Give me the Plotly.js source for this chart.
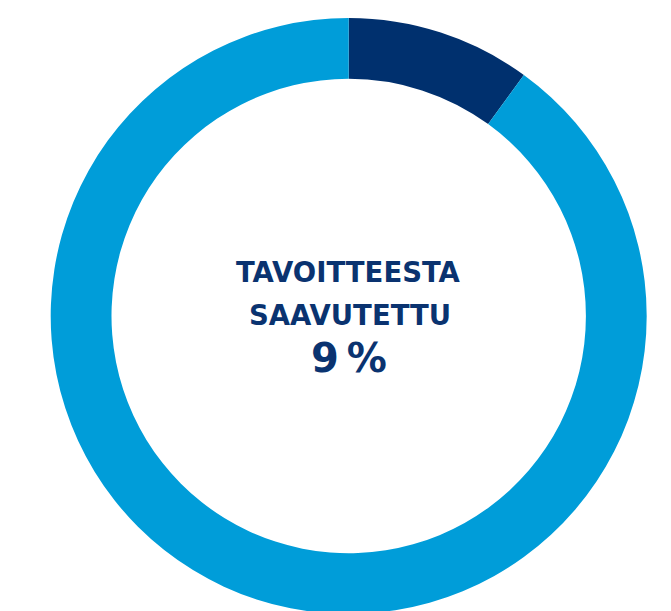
<!DOCTYPE html>
<html>
<head>
<meta charset="utf-8">
<script src="https://cdn.plot.ly/plotly-3.0.1.min.js"></script>
<style>
html, body { margin: 0; padding: 0; overflow: hidden; background: #ffffff; }
#chart { width: 671px; height: 640px; }
</style>
</head>
<body>
<div id="chart"></div>
<script>
const categories = ["Saavutettu", "Jäljellä"];
const values = [10, 90];
const sliceColors = ["#00306e", "#009dd9"];
const centerLines = ["TAVOITTEESTA", "SAAVUTETTU", "9\u2009%"];

const W = 671, H = 640;
const textColor = "#0a3370";
const fontFam = "'DejaVu Sans', sans-serif";

const data = [{
  type: "pie",
  labels: categories,
  values: values,
  hole: 0.796,
  sort: false,
  direction: "clockwise",
  rotation: 0,
  textinfo: "none",
  hoverinfo: "label+percent",
  marker: { colors: sliceColors, line: { width: 0 } },
  domain: { x: [50.7 / W, 646.7 / W], y: [(H - 614) / H, (H - 18) / H] },
  showlegend: false
}];

const layout = {
  width: W,
  height: H,
  margin: { l: 0, r: 0, t: 0, b: 0 },
  paper_bgcolor: "#ffffff",
  plot_bgcolor: "#ffffff",
  showlegend: false,
  annotations: [
    { text: centerLines[0], x: 348.5 / W, y: (H - 272) / H, xref: "paper", yref: "paper",
      showarrow: false, xanchor: "center", yanchor: "middle",
      font: { family: fontFam, size: 27.5, color: textColor, weight: "bold" } },
    { text: centerLines[1], x: 349.5 / W, y: (H - 315) / H, xref: "paper", yref: "paper",
      showarrow: false, xanchor: "center", yanchor: "middle",
      font: { family: fontFam, size: 27.5, color: textColor, weight: "bold" } },
    { text: centerLines[2], x: 348.5 / W, y: (H - 358) / H, xref: "paper", yref: "paper",
      showarrow: false, xanchor: "center", yanchor: "middle",
      font: { family: fontFam, size: 40, color: textColor, weight: "bold" } }
  ]
};

Plotly.newPlot("chart", data, layout, { displayModeBar: false, staticPlot: true });
</script>
</body>
</html>
